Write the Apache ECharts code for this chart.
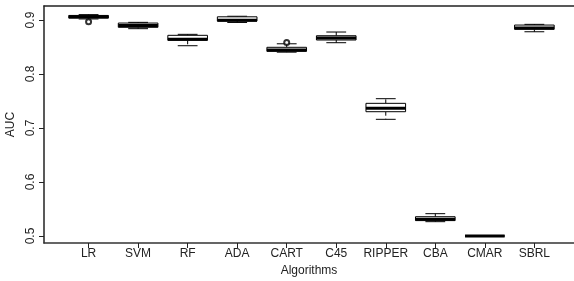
<!DOCTYPE html>
<html>
<head>
<meta charset="utf-8">
<script src="https://cdn.jsdelivr.net/npm/echarts@6/dist/echarts.min.js"></script>
<style>
  html, body { margin: 0; padding: 0; background: #fff; }
  #myChart { width: 574px; height: 281px; }
</style>
</head>
<body>
<div id="myChart"></div>
<script>
// algorithms on the x axis
var algorithms = ['LR', 'SVM', 'RF', 'ADA', 'CART', 'C45', 'RIPPER', 'CBA', 'CMAR', 'SBRL']
// box statistics
var lowWhisker = [0.902, 0.884, 0.8524, 0.8955, 0.8405, 0.858, 0.7161, 0.5265, 0.5, 0.8783]
var lowerQuart = [0.9035, 0.8865, 0.8625, 0.898, 0.842, 0.863, 0.7302, 0.5285, 0.5, 0.8828]
var medians = [0.906, 0.890, 0.8645, 0.8995, 0.8445, 0.8667, 0.7365, 0.531, 0.5, 0.8852]
var upperQuart = [0.9085, 0.8944, 0.8717, 0.906, 0.8495, 0.8709, 0.7457, 0.5357, 0.5, 0.8907]
var highWhisker = [0.910, 0.8957, 0.8735, 0.907, 0.856, 0.8778, 0.7543, 0.5413, 0.5, 0.892]
// outliers: [algorithm index (1-based), AUC]
var outliers = [[1, 0.897], [5, 0.8585]]
var yTicks = [0.5, 0.6, 0.7, 0.8, 0.9]
var xTicks = [1, 2, 3, 4, 5, 6, 7, 8, 9, 10]

var boxData = algorithms.map(function (a, i) {
  return [i + 1, lowWhisker[i], lowerQuart[i], medians[i], upperQuart[i], highWhisker[i]]
})

function renderBox(params, api) {
  var x = api.value(0)
  var lo = api.coord([x, api.value(1)])
  var q1 = api.coord([x, api.value(2)])
  var md = api.coord([x, api.value(3)])
  var q3 = api.coord([x, api.value(4)])
  var hi = api.coord([x, api.value(5)])
  var w = api.size([1, 0])[0] * 0.8
  var cx = lo[0]
  var line = { stroke: '#000', lineWidth: 1 }
  var dash = { stroke: '#000', lineWidth: 1, lineDash: [4, 3] }
  return {
    type: 'group',
    children: [
      { type: 'line', shape: { x1: cx, y1: q3[1], x2: cx, y2: hi[1] }, style: dash },
      { type: 'line', shape: { x1: cx, y1: q1[1], x2: cx, y2: lo[1] }, style: dash },
      { type: 'line', shape: { x1: cx - w / 4, y1: hi[1], x2: cx + w / 4, y2: hi[1] }, style: line },
      { type: 'line', shape: { x1: cx - w / 4, y1: lo[1], x2: cx + w / 4, y2: lo[1] }, style: line },
      { type: 'rect', shape: { x: cx - w / 2, y: q3[1], width: w, height: q1[1] - q3[1] },
        style: { fill: '#fff', stroke: '#000', lineWidth: 1 } },
      { type: 'line', shape: { x1: cx - w / 2, y1: md[1], x2: cx + w / 2, y2: md[1] },
        style: { stroke: '#000', lineWidth: 3 } }
    ]
  }
}

var myChart = echarts.init(document.getElementById('myChart'))
var option = {
  animation: false,
  textStyle: { fontFamily: 'Liberation Sans, Arial, sans-serif' },
  grid: {
    left: 44, right: 0, top: 6, bottom: 38,
    containLabel: false,
    outerBoundsMode: 'none'
  },
  xAxis: [{
    type: 'value',
    min: 0.1,
    max: 10.8,
    name: 'Algorithms',
    nameLocation: 'middle',
    nameGap: 21,
    nameTextStyle: { color: '#222', fontSize: 12 },
    axisLine: { show: true, lineStyle: { color: '#333', width: 1.5 } },
    axisTick: { show: true, length: 5, customValues: xTicks, lineStyle: { color: '#222' } },
    axisLabel: {
      customValues: xTicks, color: '#222', fontSize: 12, margin: 5,
      formatter: function (v) { return algorithms[Math.round(v) - 1] }
    },
    splitLine: { show: false }
  }, {
    // plain frame line along the top
    type: 'value',
    position: 'top',
    min: 0.1,
    max: 10.8,
    axisLine: { show: true, lineStyle: { color: '#222', width: 1.5 } },
    axisTick: { show: false },
    axisLabel: { show: false },
    splitLine: { show: false }
  }],
  yAxis: {
    type: 'value',
    min: 0.487,
    max: 0.926,
    name: 'AUC',
    nameLocation: 'middle',
    nameRotate: 90,
    nameGap: 21,
    nameTextStyle: { color: '#222', fontSize: 12 },
    axisLine: { show: true, lineStyle: { color: '#222', width: 1.5 } },
    axisTick: { show: true, length: 5, customValues: yTicks, lineStyle: { color: '#222' } },
    axisLabel: {
      customValues: yTicks, color: '#222', fontSize: 12, rotate: 90, margin: 7,
      formatter: function (v) { return v.toFixed(1) }
    },
    splitLine: { show: false }
  },
  series: [
    {
      type: 'custom',
      renderItem: renderBox,
      data: boxData,
      encode: { x: 0, y: [1, 2, 3, 4, 5] }
    },
    {
      type: 'scatter',
      data: outliers,
      symbol: 'emptyCircle',
      symbolSize: 5,
      itemStyle: { color: '#000', borderWidth: 1 }
    }
  ]
}
myChart.setOption(option)
</script>
</body>
</html>
